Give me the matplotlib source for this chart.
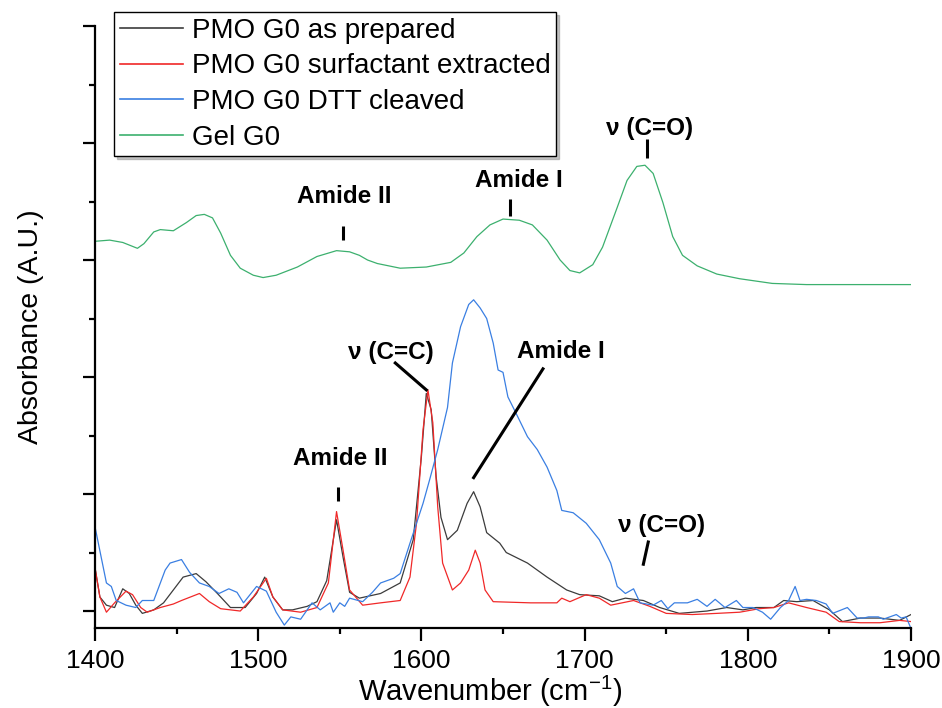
import matplotlib
matplotlib.use("Agg")
import matplotlib.pyplot as plt
from matplotlib.ticker import MultipleLocator

plt.rcParams["font.family"] = ["Liberation Sans", "DejaVu Sans"]
plt.rcParams["mathtext.default"] = "regular"

# wavenumber (cm-1) / absorbance (arb., one unit = one major y tick)
gel_wn = [1400, 1409, 1417, 1426, 1430, 1436, 1440, 1448, 1456, 1462, 1467, 1472, 1477,
          1483, 1489, 1497, 1503, 1511, 1524, 1536, 1548, 1556, 1562, 1567, 1573, 1587,
          1603, 1618, 1626, 1634, 1642, 1650, 1660, 1668, 1677, 1685, 1691, 1697, 1705,
          1711, 1720, 1726, 1732, 1737, 1742, 1748, 1754, 1760, 1769, 1781, 1795, 1815,
          1836, 1900]
gel_ab = [3.16, 3.17, 3.15, 3.10, 3.14, 3.24, 3.26, 3.25, 3.32, 3.38, 3.39, 3.36, 3.23,
          3.04, 2.93, 2.87, 2.85, 2.87, 2.94, 3.03, 3.08, 3.07, 3.04, 3.00, 2.97, 2.93,
          2.94, 2.98, 3.06, 3.20, 3.30, 3.35, 3.34, 3.30, 3.17, 3.00, 2.91, 2.89, 2.96,
          3.11, 3.45, 3.68, 3.80, 3.81, 3.74, 3.49, 3.20, 3.04, 2.95, 2.88, 2.84, 2.80,
          2.79, 2.79]

blue_wn = [1400, 1407, 1410, 1413, 1419, 1425, 1429, 1436, 1443, 1446, 1453, 1458, 1464,
           1470, 1476, 1482, 1487, 1491, 1499, 1505, 1511, 1516, 1520, 1526, 1533, 1538,
           1544, 1546, 1550, 1553, 1556, 1564, 1570, 1575, 1583, 1587, 1593, 1601, 1605,
           1610, 1616, 1619, 1624, 1629, 1632, 1636, 1640, 1644, 1647, 1650, 1653, 1658,
           1665, 1671, 1677, 1683, 1686, 1693, 1701, 1709, 1716, 1720, 1725, 1730, 1734,
           1742, 1747, 1751, 1755, 1763, 1769, 1775, 1780, 1786, 1793, 1797, 1803, 1809,
           1814, 1820, 1825, 1829, 1832, 1836, 1842, 1848, 1852, 1861, 1867, 1871, 1874,
           1880, 1883, 1891, 1894, 1897, 1900]
blue_ab = [0.72, 0.24, 0.21, 0.09, 0.05, 0.03, 0.09, 0.09, 0.35, 0.41, 0.44, 0.33, 0.24,
           0.21, 0.15, 0.19, 0.16, 0.07, 0.21, 0.17, -0.01, -0.12, -0.05, -0.07, 0.07, 0.01,
           0.07, -0.01, 0.07, 0.04, 0.11, 0.08, 0.16, 0.24, 0.28, 0.32, 0.58, 0.92, 1.12,
           1.38, 1.74, 2.12, 2.43, 2.62, 2.66, 2.59, 2.50, 2.29, 2.06, 2.04, 1.83, 1.69,
           1.49, 1.38, 1.23, 1.03, 0.86, 0.84, 0.75, 0.61, 0.41, 0.21, 0.15, 0.19, 0.07,
           0.05, 0.09, 0.02, 0.07, 0.07, 0.10, 0.04, 0.10, 0.03, 0.09, 0.03, 0.03, -0.01,
           -0.07, 0.03, 0.09, 0.21, 0.09, 0.10, 0.09, 0.06, -0.02, 0.03, -0.06, -0.06, -0.05,
           -0.05, -0.07, -0.03, -0.06, -0.05, -0.15]

black_wn = [1400, 1403, 1407, 1412, 1417, 1421, 1425, 1429, 1436, 1442, 1448, 1454, 1462,
            1468, 1475, 1483, 1492, 1499, 1504, 1509, 1515, 1521, 1530, 1536, 1542, 1548,
            1552, 1556, 1562, 1575, 1587, 1595, 1600, 1603, 1606, 1609, 1612, 1616, 1622,
            1628, 1632, 1636, 1640, 1648, 1652, 1665, 1677, 1689, 1697, 1709, 1717, 1725,
            1736, 1746, 1758, 1775, 1787, 1797, 1805, 1816, 1822, 1830, 1840, 1850, 1858,
            1869, 1881, 1893, 1900]
black_ab = [0.37, 0.12, 0.05, 0.03, 0.19, 0.15, 0.05, -0.02, 0.01, 0.07, 0.18, 0.29, 0.32,
            0.25, 0.15, 0.03, 0.03, 0.15, 0.29, 0.12, 0.01, 0.01, 0.04, 0.08, 0.26, 0.78,
            0.46, 0.16, 0.11, 0.15, 0.24, 0.61, 1.32, 1.86, 1.72, 1.15, 0.80, 0.61, 0.69,
            0.92, 1.02, 0.89, 0.67, 0.58, 0.50, 0.41, 0.29, 0.18, 0.14, 0.13, 0.08, 0.11,
            0.09, 0.03, -0.02, 0.00, 0.03, 0.01, 0.03, 0.03, 0.09, 0.08, 0.09, 0.01, -0.09,
            -0.06, -0.06, -0.08, -0.03]

red_wn = [1400, 1403, 1407, 1412, 1419, 1423, 1428, 1432, 1440, 1448, 1453, 1464, 1470,
          1477, 1489, 1497, 1505, 1509, 1515, 1526, 1536, 1543, 1548, 1552, 1556, 1564,
          1575, 1587, 1593, 1597, 1601, 1604, 1607, 1610, 1613, 1619, 1624, 1629, 1633,
          1636, 1639, 1644, 1667, 1683, 1686, 1691, 1701, 1709, 1716, 1730, 1740, 1750,
          1766, 1781, 1795, 1807, 1816, 1825, 1836, 1848, 1856, 1869, 1881, 1893, 1900]
red_ab = [0.37, 0.12, -0.01, 0.07, 0.17, 0.14, 0.03, -0.01, 0.03, 0.06, 0.09, 0.15, 0.08,
          0.02, 0.00, 0.12, 0.28, 0.12, 0.01, -0.01, 0.03, 0.24, 0.85, 0.52, 0.18, 0.05,
          0.07, 0.09, 0.29, 0.75, 1.55, 1.89, 1.61, 0.89, 0.41, 0.18, 0.24, 0.35, 0.52,
          0.41, 0.18, 0.08, 0.07, 0.07, 0.11, 0.08, 0.14, 0.11, 0.05, 0.09, 0.04, -0.02,
          -0.03, -0.02, -0.01, 0.02, 0.03, 0.07, 0.03, -0.01, -0.09, -0.10, -0.10, -0.08, -0.09]

labels = ["PMO G0 as prepared", "PMO G0 surfactant extracted", "PMO G0 DTT cleaved", "Gel G0"]
colors = ["#3c3c3c", "#f02828", "#3a7fe2", "#3cb06e"]

fig = plt.figure(figsize=(9.42, 7.08), dpi=100)
ax = fig.add_axes([95 / 942, 80 / 708, 816 / 942, 602 / 708])

ax.plot(black_wn, black_ab, color=colors[0], lw=0.9, label=labels[0])
ax.plot(red_wn, red_ab, color=colors[1], lw=0.9, label=labels[1])
ax.plot(blue_wn, blue_ab, color=colors[2], lw=0.9, label=labels[2])
ax.plot(gel_wn, gel_ab, color=colors[3], lw=0.9, label=labels[3])

ax.set_xlim(1400, 1900)
ax.set_ylim(-0.145, 5.0)
ax.xaxis.set_major_locator(MultipleLocator(100))
ax.xaxis.set_minor_locator(MultipleLocator(50))
ax.yaxis.set_major_locator(MultipleLocator(1))
ax.yaxis.set_minor_locator(MultipleLocator(0.5))
ax.set_yticklabels([])
ax.spines["top"].set_visible(False)
ax.spines["right"].set_visible(False)
for s in ["left", "bottom"]:
    ax.spines[s].set_linewidth(1.6)
ax.tick_params(which="major", direction="out", length=9, width=1.6, labelsize=19)
ax.tick_params(which="minor", direction="out", length=4.5, width=1.6)
ax.tick_params(axis="x", pad=6)

ax.set_xlabel("Wavenumber (cm$^{-1}$)", fontsize=21)
ax.xaxis.set_label_coords(0.484, -0.122, transform=ax.transAxes)
ax.xaxis.label.set_va("baseline")
ax.set_ylabel("Absorbance (A.U.)", fontsize=20.5, labelpad=24)

bold = dict(fontsize=17.5, fontweight="bold", ha="center", va="baseline")
tick = dict(color="black", lw=2.2, solid_capstyle="butt")

# upper (gel) labels
ax.text(1553, 3.49, "Amide II", **bold)
ax.plot([1552, 1552], [3.17, 3.29], **tick)
ax.text(1660, 3.62, "Amide I", **bold)
ax.plot([1654.5, 1654.5], [3.38, 3.52], **tick)
ax.text(1739.5, 4.07, "ν (C=O)", **bold)
ax.plot([1738, 1738], [3.87, 4.03], **tick)

# lower labels
ax.text(1550, 1.25, "Amide II", **bold)
ax.plot([1549, 1549], [0.94, 1.06], **tick)
ax.text(1581, 2.15, "ν (C=C)", **bold)
ax.plot([1584, 1603], [2.12, 1.89], color="black", lw=2.2)
ax.text(1685.5, 2.16, "Amide I", **bold)
ax.plot([1674.5, 1632], [2.07, 1.14], color="black", lw=2.2)
ax.text(1747, 0.675, "ν (C=O)", **bold)
ax.plot([1739, 1736], [0.59, 0.40], color="black", lw=2.2)

leg = ax.legend(loc="upper left", bbox_to_anchor=(114 / 942, 1 - 12 / 708),
                bbox_transform=fig.transFigure, borderaxespad=0, fontsize=20,
                frameon=True, fancybox=False, shadow={"color": "0.55"},
                handlelength=2.27, labelspacing=0.35, handletextpad=0.32,
                borderpad=0.2)
leg.get_frame().set_edgecolor("black")
leg.get_frame().set_linewidth(1.0)
for line in leg.get_lines():
    line.set_linewidth(1.2)

fig.savefig("out.png", dpi=100)
